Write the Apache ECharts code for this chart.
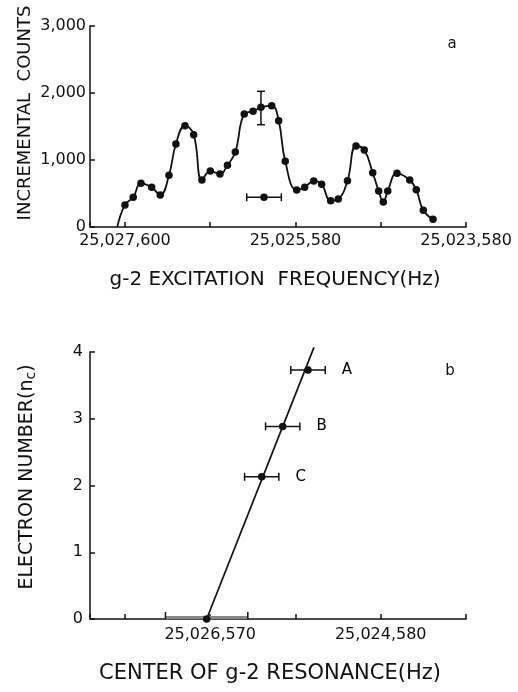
<!DOCTYPE html>
<html>
<head>
<meta charset="utf-8">
<script src="https://cdn.jsdelivr.net/npm/echarts@6/dist/echarts.min.js"></script>
<style>
html,body{margin:0;padding:0;background:#fff;}
#c{width:518px;height:692px;}
</style>
</head>
<body>
<div id="c"></div>
<script>
// ---- Panel a: incremental counts vs g-2 excitation frequency ----
const countsFreq = [25027670, 25027580, 25027483, 25027392, 25027267, 25027166, 25027064, 25026982, 25026876, 25026774,
  25026677, 25026579, 25026466, 25026378, 25026286, 25026181, 25026078, 25025985, 25025859, 25025777,
  25025700, 25025566, 25025472, 25025366, 25025273, 25025167, 25025078, 25024970, 25024870, 25024773,
  25024674, 25024604, 25024550, 25024498, 25024389, 25024240, 25024163, 25024081, 25023967];
const countsValue = [0, 330, 443, 652, 592, 478, 771, 1239, 1512, 1378,
  701, 836, 791, 921, 1119, 1687, 1726, 1786, 1811, 1587,
  980, 552, 592, 687, 637, 393, 418, 691, 1209, 1149,
  810, 537, 373, 537, 801, 701, 557, 249, 115];
// vertical error bar: [freq, value, low, high]
const countsErrorBar = [[25025985, 1786, 1527, 2025]];
// resolution bar: [freq, value, low freq, high freq]
const resolutionBar = [[25025949, 443, 25025746, 25026152]];
const topTickLabels = {25027580: '25,027,600', 25025580: '25,025,580', 25023580: '25,023,580'};

// ---- Panel b: electron number vs center of g-2 resonance ----
const resNames = ['', 'C', 'B', 'A'];
const resCenter = [25026622, 25025976, 25025730, 25025433];
const resNumber = [0, 2.13, 2.885, 3.73];
const resHalfWidth = [483, 201, 201, 202];
const fitLine = [[25026622, 0], [25025363, 4.07]];
const bottomTickLabels = {25026580: '25,026,570', 25024580: '25,024,580'};

const FONT = 'DejaVu Sans';
const INK = '#111';

const chart = echarts.init(document.getElementById('c'), null, {renderer: 'canvas'});

function xAxisCfg(gridIndex, labels, margin) {
  return {
    type: 'value', gridIndex: gridIndex, inverse: true,
    min: 25023580, max: 25027990, interval: 1000,
    axisLine: {lineStyle: {color: INK, width: 1.5}},
    axisTick: {inside: true, length: 5, lineStyle: {color: INK, width: 1.5}},
    splitLine: {show: false},
    axisLabel: {
      margin: margin, color: INK, fontFamily: FONT, fontSize: 16,
      showMinLabel: true, showMaxLabel: true,
      formatter: function (v) { return labels[Math.round(v)] || ''; }
    }
  };
}
function yAxisCfg(gridIndex, max, margin, fmt) {
  return {
    type: 'value', gridIndex: gridIndex, min: 0, max: max, interval: max === 3000 ? 1000 : 1,
    axisLine: {show: true, lineStyle: {color: INK, width: 1.5}},
    axisTick: {show: true, inside: true, length: 5, lineStyle: {color: INK, width: 1.5}},
    splitLine: {show: false},
    axisLabel: {margin: margin, color: INK, fontFamily: FONT, fontSize: 16, formatter: fmt}
  };
}

function hBar(params, api) {
  const y = api.value(1);
  const p1 = api.coord([api.value(2), y]);
  const p2 = api.coord([api.value(3), y]);
  const gray = params.dataIndex === 0 && params.seriesName === 'resBars';
  const children = [
    {type: 'line', shape: {x1: p1[0], y1: p1[1] - (gray ? 1.5 : 0), x2: p2[0], y2: p2[1] - (gray ? 1.5 : 0)},
      style: {stroke: gray ? '#888' : INK, lineWidth: gray ? 3 : 1.5}},
    {type: 'line', shape: {x1: p1[0], y1: p1[1] - (gray ? 7 : 4), x2: p1[0], y2: p1[1] + (gray ? 0 : 4)}, style: {stroke: INK, lineWidth: 1.5}},
    {type: 'line', shape: {x1: p2[0], y1: p2[1] - (gray ? 7 : 4), x2: p2[0], y2: p2[1] + (gray ? 0 : 4)}, style: {stroke: INK, lineWidth: 1.5}}
  ];
  return {type: 'group', children: children};
}
function vBar(params, api) {
  const x = api.value(0);
  const p1 = api.coord([x, api.value(2)]);
  const p2 = api.coord([x, api.value(3)]);
  return {type: 'group', children: [
    {type: 'line', shape: {x1: p1[0], y1: p1[1], x2: p2[0], y2: p2[1]}, style: {stroke: INK, lineWidth: 1.5}},
    {type: 'line', shape: {x1: p1[0] - 4, y1: p1[1], x2: p1[0] + 4, y2: p1[1]}, style: {stroke: INK, lineWidth: 1.5}},
    {type: 'line', shape: {x1: p2[0] - 4, y1: p2[1], x2: p2[0] + 4, y2: p2[1]}, style: {stroke: INK, lineWidth: 1.5}}
  ]};
}

const curveData = countsFreq.map(function (f, i) {
  const item = {value: [f, countsValue[i]]};
  if (i === 0) item.symbol = 'none';
  return item;
});
const resData = resCenter.map(function (c, i) {
  return {value: [c, resNumber[i]], name: resNames[i]};
});
const resBarData = resCenter.map(function (c, i) {
  return [c, resNumber[i], c - resHalfWidth[i], c + resHalfWidth[i]];
});

chart.setOption({
  animation: false,
  backgroundColor: '#fff',
  grid: [
    {left: 90, top: 26, width: 376, height: 201},
    {left: 90, top: 352, width: 376, height: 267}
  ],
  xAxis: [xAxisCfg(0, topTickLabels, 6), xAxisCfg(1, bottomTickLabels, 8)],
  yAxis: [
    yAxisCfg(0, 3000, 4, function (v) { return v.toLocaleString('en-US'); }),
    yAxisCfg(1, 4, 7, function (v) { return String(v); })
  ],
  series: [
    {
      type: 'line', xAxisIndex: 0, yAxisIndex: 0, data: curveData, smooth: 0.45,
      symbol: 'circle', symbolSize: 7.5, itemStyle: {color: INK, opacity: 1},
      lineStyle: {color: INK, width: 1.8}
    },
    {
      type: 'custom', xAxisIndex: 0, yAxisIndex: 0, data: countsErrorBar,
      encode: {x: 0, y: [1, 2, 3]}, renderItem: vBar, z: 3
    },
    {
      type: 'custom', name: 'resolution', xAxisIndex: 0, yAxisIndex: 0, data: resolutionBar,
      encode: {x: [0, 2, 3], y: 1}, renderItem: hBar, z: 3
    },
    {
      type: 'scatter', xAxisIndex: 0, yAxisIndex: 0, data: resolutionBar.map(function (d) { return [d[0], d[1]]; }),
      symbolSize: 7.5, itemStyle: {color: INK, opacity: 1}, z: 4
    },
    {
      type: 'line', xAxisIndex: 1, yAxisIndex: 1, data: fitLine, symbol: 'none', clip: false,
      lineStyle: {color: INK, width: 1.7}
    },
    {
      type: 'custom', name: 'resBars', xAxisIndex: 1, yAxisIndex: 1, data: resBarData,
      encode: {x: [0, 2, 3], y: 1}, renderItem: hBar, z: 3
    },
    {
      type: 'scatter', xAxisIndex: 1, yAxisIndex: 1, data: resData, symbolSize: 7.5,
      itemStyle: {color: INK, opacity: 1}, z: 4,
      label: {show: true, position: 'right', distance: 30, formatter: '{b}', color: '#000', opacity: 1, fontFamily: FONT, fontSize: 15}
    }
  ],
  graphic: [
    {type: 'text', x: 25, y: 113, rotation: Math.PI / 2,
      style: {text: 'INCREMENTAL  COUNTS', font: '18px "DejaVu Sans"', fill: INK, align: 'center', verticalAlign: 'middle'}},
    {type: 'text', x: 275, y: 280,
      style: {text: 'g-2 EXCITATION  FREQUENCY(Hz)', font: '20px "DejaVu Sans"', fill: INK, align: 'center', verticalAlign: 'middle'}},
    {type: 'text', x: 452, y: 44,
      style: {text: 'a', font: '15px "DejaVu Sans"', fill: INK, align: 'center', verticalAlign: 'middle'}},
    {type: 'text', x: 27, y: 477, rotation: Math.PI / 2,
      style: {text: 'ELECTRON NUMBER(n{s|c})', font: '19px "DejaVu Sans"', fill: INK, align: 'center', verticalAlign: 'middle',
        rich: {s: {fontSize: 14, fontFamily: FONT, fill: INK, verticalAlign: 'bottom', padding: [9, 0, 0, 0]}}}},
    {type: 'text', x: 270, y: 674,
      style: {text: 'CENTER OF g-2 RESONANCE(Hz)', font: '21px "DejaVu Sans"', fill: INK, align: 'center', verticalAlign: 'middle'}},
    {type: 'text', x: 450, y: 371,
      style: {text: 'b', font: '15px "DejaVu Sans"', fill: INK, align: 'center', verticalAlign: 'middle'}}
  ]
});
</script>
</body>
</html>
